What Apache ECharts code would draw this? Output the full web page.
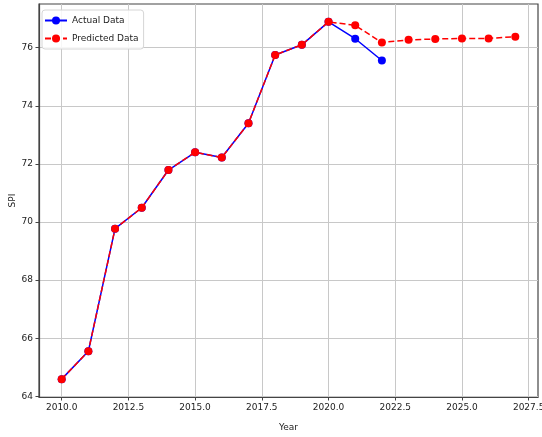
<!DOCTYPE html>
<html>
<head>
<meta charset="utf-8">
<script src="https://cdn.jsdelivr.net/npm/echarts@6/dist/echarts.min.js"></script>
<style>html,body{margin:0;padding:0;background:#fff}#c{width:542px;height:437px}</style>
</head>
<body>
<div id="c"></div>
<script>
const actualYears = [2010, 2011, 2012, 2013, 2014, 2015, 2016, 2017, 2018, 2019, 2020, 2021, 2022];
const actualValues = [64.59, 65.55, 69.77, 70.49, 71.79, 72.40, 72.22, 73.40, 75.75, 76.10, 76.89, 76.31, 75.56];
const predictedYears = [2010, 2011, 2012, 2013, 2014, 2015, 2016, 2017, 2018, 2019, 2020, 2021, 2022, 2023, 2024, 2025, 2026, 2027];
const predictedValues = [64.59, 65.55, 69.77, 70.49, 71.79, 72.40, 72.22, 73.40, 75.75, 76.10, 76.89, 76.77, 76.18, 76.27, 76.30, 76.32, 76.32, 76.38];
const xTicks = [2010.0, 2012.5, 2015.0, 2017.5, 2020.0, 2022.5, 2025.0, 2027.5];
const yTicks = [64, 66, 68, 70, 72, 74, 76];

const font = 'DejaVu Sans';
const chart = echarts.init(document.getElementById('c'), null, {renderer: 'canvas'});
chart.setOption({
  animation: false,
  backgroundColor: '#fff',
  grid: {left: 39, right: 4, top: 4, bottom: 40, show: true, borderColor: '#444', borderWidth: 1.2,
    backgroundColor: 'transparent', containLabel: false, outerBoundsMode: 'none'},
  legend: {
    left: 42, top: 10, orient: 'vertical',
    backgroundColor: 'rgba(255,255,255,0.85)', borderColor: '#d6d6d6', borderWidth: 1, borderRadius: 3,
    padding: [6, 5, 6, 2], itemGap: 9, itemWidth: 22, itemHeight: 10,
    textStyle: {fontFamily: font, fontSize: 9, color: '#222'},
    data: ['Actual Data', 'Predicted Data']
  },
  xAxis: {
    type: 'value', min: 2009.15, max: 2027.85,
    name: 'Year', nameLocation: 'middle', nameGap: 26, nameMoveOverlap: false,
    nameTextStyle: {fontFamily: font, fontSize: 9, color: '#222'},
    axisLine: {show: true, lineStyle: {color: '#444', width: 1.2}},
    axisTick: {show: true, length: 3.5, customValues: xTicks, lineStyle: {color: '#444'}},
    axisLabel: {customValues: xTicks, margin: 6, fontFamily: font, fontSize: 9, color: '#222',
      formatter: v => v.toFixed(1)},
    splitLine: {show: true, lineStyle: {color: '#c8c8c8', width: 1}}
  },
  yAxis: {
    type: 'value', min: 63.975, max: 77.505,
    name: 'SPI', nameLocation: 'middle', nameGap: 22, nameMoveOverlap: false,
    nameTextStyle: {fontFamily: font, fontSize: 9, color: '#222'},
    axisLine: {show: true, lineStyle: {color: '#444', width: 1.2}},
    axisTick: {show: true, length: 3.5, customValues: yTicks, lineStyle: {color: '#444'}},
    axisLabel: {customValues: yTicks, margin: 6, fontFamily: font, fontSize: 9, color: '#222'},
    splitLine: {show: true, lineStyle: {color: '#c8c8c8', width: 1}}
  },
  series: [
    {
      name: 'Actual Data', type: 'line',
      data: actualYears.map((y, i) => [y, actualValues[i]]),
      symbol: 'circle', symbolSize: 8,
      itemStyle: {color: '#0000ff'},
      lineStyle: {color: '#0000ff', width: 1.5},
      z: 2
    },
    {
      name: 'Predicted Data', type: 'line',
      data: predictedYears.map((y, i) => [y, predictedValues[i]]),
      symbol: 'circle', symbolSize: 8,
      itemStyle: {color: '#ff0000'},
      lineStyle: {color: '#ff0000', width: 1.5, type: [6, 3]},
      z: 3
    }
  ]
});
</script>
</body>
</html>
